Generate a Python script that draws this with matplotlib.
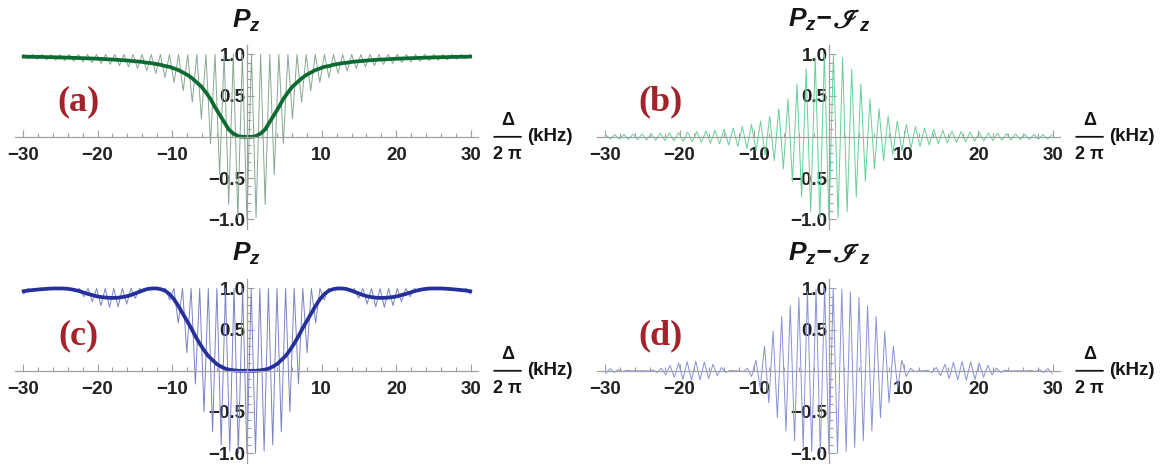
import numpy as np
import matplotlib
matplotlib.use('Agg')
import matplotlib.pyplot as plt
from matplotlib.ticker import FixedLocator, NullFormatter
from matplotlib.offsetbox import TextArea, HPacker, AnchoredOffsetbox

plt.rcParams.update({
    'font.family': ['Liberation Sans', 'DejaVu Sans'],
    'font.weight': 'bold',
    'mathtext.fontset': 'custom',
    'mathtext.rm': 'Liberation Sans:bold',
    'mathtext.it': 'Liberation Sans:bold:italic',
    'mathtext.bf': 'Liberation Sans:bold',
})

# fast oscillation: extrema every half period (kHz), trough at delta = 0.
# all curves are symmetric in delta, values below are for delta >= 0.
half_top = 0.61
half_bot = 0.575

# ---- top row: thick P_z (a) at the extrema positions
T_a = [0.0, 0.0, 0.01, 0.04, 0.09, 0.18, 0.27, 0.36, 0.46, 0.54,
       0.61, 0.66, 0.71, 0.75, 0.78, 0.81, 0.83, 0.85, 0.86, 0.875,
       0.885, 0.895, 0.90, 0.91, 0.915, 0.92, 0.925, 0.93, 0.933, 0.937,
       0.94, 0.943, 0.946, 0.949, 0.951, 0.953, 0.955, 0.957, 0.959, 0.961,
       0.963, 0.964, 0.966, 0.967, 0.968, 0.970, 0.971, 0.972, 0.973, 0.974]
# thin P_z (a): troughs (even extrema) and peaks (odd extrema)
a_troughs = [-1.0, -0.98, -0.82, -0.46, -0.08, 0.22, 0.42, 0.56, 0.66, 0.72,
             0.77, 0.80, 0.83, 0.85, 0.866, 0.88, 0.892, 0.902, 0.91, 0.918,
             0.926, 0.932, 0.936, 0.942, 0.946]
a_peaks = [1.0] * 25
# |P_z - I_z| (b) at each extremum
b_amp = [1.0, 1.0, 0.99, 0.96, 0.91, 0.82, 0.73, 0.64, 0.54, 0.46,
         0.39, 0.34, 0.29, 0.25, 0.22, 0.19, 0.17, 0.15, 0.14, 0.125,
         0.115, 0.105, 0.10, 0.09, 0.085, 0.08, 0.075, 0.07, 0.067, 0.063,
         0.06, 0.057, 0.054, 0.051, 0.049, 0.047, 0.045, 0.043, 0.041, 0.039,
         0.037, 0.036, 0.034, 0.033, 0.032, 0.030, 0.029, 0.028, 0.027, 0.026]

# ---- bottom row: thick P_z (c) at the extrema positions
T_c = [0.0, 0.0, 0.0, 0.005, 0.012, 0.025, 0.05, 0.08, 0.13, 0.18,
       0.25, 0.33, 0.42, 0.52, 0.61, 0.70, 0.79, 0.87, 0.93, 0.97,
       0.99, 1.0, 1.0, 0.995, 0.98, 0.96, 0.94, 0.92, 0.905, 0.895,
       0.888, 0.885, 0.886, 0.89, 0.896, 0.905, 0.92, 0.933, 0.95, 0.967,
       0.98, 0.99, 0.997, 1.0, 1.0, 1.0, 0.998, 0.994, 0.99, 0.985,
       0.98, 0.974, 0.966]
c_troughs = [-1.0, -1.0, -0.976, -0.90, -0.74, -0.50, -0.16, 0.22, 0.58, 0.86,
             0.98, 1.0, 0.96, 0.88, 0.81, 0.776, 0.772, 0.792, 0.84, 0.90,
             0.96, 0.994, 1.0, 0.996, 0.98, 0.96, 0.932]
c_peaks = [1.0] * 26
d_amp = [1.0, 1.0, 1.0, 0.99, 0.98, 0.96, 0.93, 0.89, 0.85, 0.79,
         0.73, 0.66, 0.57, 0.48, 0.39, 0.30, 0.21, 0.13, 0.07, 0.03,
         0.01, 0.0, 0.0, 0.005, 0.02, 0.04, 0.06, 0.08, 0.095, 0.105,
         0.112, 0.115, 0.114, 0.11, 0.104, 0.095, 0.08, 0.067, 0.05, 0.033,
         0.02, 0.01, 0.003, 0.0, 0.0, 0.0, 0.002, 0.006, 0.01, 0.015,
         0.02, 0.026, 0.034]

xticks = [-30, -20, -10, 10, 20, 30]
xticklabels = ['\u221230', '\u221220', '\u221210', '10', '20', '30']
yticks = [-1.0, -0.5, 0.5, 1.0]
yticklabels = ['\u22121.0', '\u22120.5', '0.5', '1.0']


def mirror(y):
    y = np.asarray(y, dtype=float)
    return np.concatenate([y[:0:-1], y])


def mirror_x(half, n):
    p = half * np.arange(n)
    return np.concatenate([-p[:0:-1], p])


def interleave(troughs, peaks):
    v = np.empty(len(troughs) + len(peaks))
    v[0::2] = troughs
    v[1::2] = peaks
    return v


def alternate(amp):
    amp = np.asarray(amp, dtype=float)
    return amp * np.where(np.arange(len(amp)) % 2 == 0, -1.0, 1.0)


x_top = mirror_x(half_top, len(T_a))
x_bot = mirror_x(half_bot, len(T_c))

axis_col = '#a0a0a0'
red = '#a3232a'
ink = '#151515'
tp = dict(fontsize=19, style='italic', weight='bold', color=ink)
script = dict(fontsize=19, style='italic', weight='bold', color=ink,
              family=['STIXGeneral', 'DejaVu Sans'])


def put_title(ax, parts):
    box = HPacker(children=[TextArea(s, textprops=p) for s, p in parts],
                  align='baseline', pad=0, sep=0)
    anc = AnchoredOffsetbox(loc='lower center', child=box, pad=0, borderpad=0,
                            frameon=False, bbox_to_anchor=(0.5, 1.06),
                            bbox_transform=ax.transAxes)
    ax.add_artist(anc)


def style(ax, parts, letter):
    ax.set_xlim(-31, 31)
    ax.set_ylim(-1.12, 1.12)
    for s in ['top', 'right']:
        ax.spines[s].set_visible(False)
    ax.spines['left'].set_position(('data', 0))
    ax.spines['bottom'].set_position(('data', 0))
    for s in ['left', 'bottom']:
        ax.spines[s].set_color(axis_col)
        ax.spines[s].set_linewidth(0.9)
    ax.xaxis.set_major_locator(FixedLocator(xticks))
    ax.set_xticklabels(xticklabels)
    ax.xaxis.set_minor_locator(FixedLocator([v for v in range(-30, 31, 2) if v % 10]))
    ax.yaxis.set_major_locator(FixedLocator(yticks))
    ax.set_yticklabels(yticklabels)
    ax.yaxis.set_minor_locator(FixedLocator([v / 10 for v in range(-10, 11) if v % 5]))
    ax.xaxis.set_minor_formatter(NullFormatter())
    ax.yaxis.set_minor_formatter(NullFormatter())
    ax.tick_params(which='both', direction='in', color=axis_col, width=0.8,
                   labelsize=13.5, labelcolor='#222222')
    ax.tick_params(which='major', length=5)
    ax.tick_params(which='minor', length=3)
    ax.tick_params(axis='x', pad=7)
    ax.tick_params(axis='y', pad=1)
    ax.patch.set_visible(False)
    put_title(ax, parts)
    ax.text(-22.6, 0.42, letter, ha='center', va='center', fontsize=26,
            family='Liberation Serif', weight='bold', color=red)
    # axis label  Delta / 2 pi  (kHz)
    ax.text(34.9, 0.10, '\u0394', ha='center', va='bottom', fontsize=13,
            weight='bold', color=ink)
    ax.annotate('', xy=(36.7, 0), xytext=(33.1, 0), annotation_clip=False,
                arrowprops=dict(arrowstyle='-', lw=1.3, color=ink,
                                shrinkA=0, shrinkB=0))
    ax.text(34.9, -0.11, '2 \u03c0', ha='center', va='top', fontsize=13,
            weight='bold', color=ink)
    ax.text(37.5, 0, '(kHz)', ha='left', va='center', fontsize=13.5,
            weight='bold', color=ink)


fig = plt.figure(figsize=(11.67, 4.67), dpi=100)
w, h = 0.3968, 0.3950
ax_a = fig.add_axes([0.0132, 0.5095, w, h])
ax_b = fig.add_axes([0.5119, 0.5095, w, h])
ax_c = fig.add_axes([0.0132, 0.0085, w, h])
ax_d = fig.add_axes([0.5119, 0.0085, w, h])

title_p = [('P$_z$', tp)]
title_pi = [('P$_z$\u2212', tp), ('\u2110', script), ('$_z$', tp)]

# (a)
ax_a.plot(x_top, mirror(interleave(a_troughs, a_peaks)), color='#86a891', lw=0.7)
ax_a.plot(x_top, mirror(T_a), color='#0d6b32', lw=2.7)
style(ax_a, title_p, '(a)')

# (b)
ax_b.plot(x_top, mirror(alternate(b_amp)), color='#66d096', lw=0.7)
style(ax_b, title_pi, '(b)')

# (c)
ax_c.plot(x_bot, mirror(interleave(c_troughs, c_peaks)), color='#7a82c4', lw=0.7)
ax_c.plot(x_bot, mirror(T_c), color='#25309b', lw=2.7)
style(ax_c, title_p, '(c)')

# (d)
ax_d.plot(x_bot, mirror(alternate(d_amp)), color='#8692d6', lw=0.7)
style(ax_d, title_pi, '(d)')

fig.savefig('out.png', dpi=100)
